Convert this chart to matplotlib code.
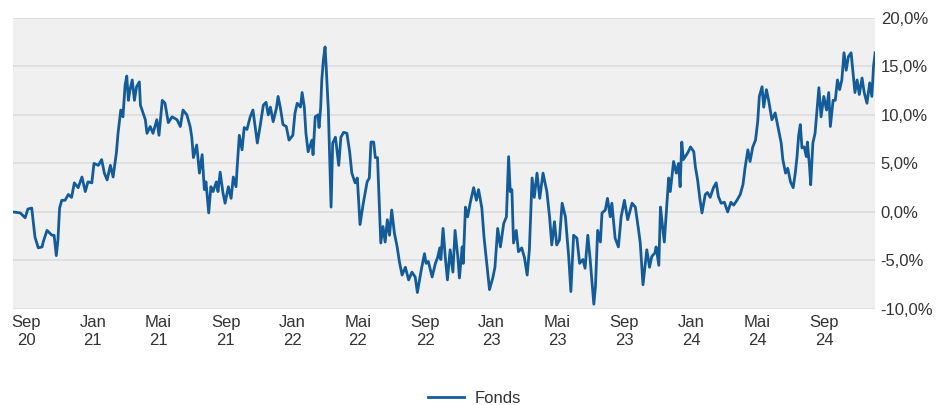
import numpy as np
import pandas as pd
import matplotlib
matplotlib.use("Agg")
from matplotlib import pyplot as plt

plt.rcParams['font.family'] = ['Liberation Sans', 'DejaVu Sans']

# data: days since start date, fund performance in %
start = pd.Timestamp('2020-08-08')
tage = [0, 13, 22, 27, 34, 40, 46, 53, 55, 62, 71, 75, 79, 82, 85, 89, 95, 101, 107, 112,
        119, 126, 132, 137, 144, 148, 156, 162, 167, 172, 178, 183, 189, 192, 197, 201, 205, 208, 211, 214,
        218, 222, 226, 231, 233, 242, 245, 251, 256, 263, 267, 273, 278, 284, 291, 300, 306, 311, 318, 324,
        327, 330, 336, 341, 346, 350, 353, 358, 362, 366, 372, 375, 379, 384, 388, 394, 399, 403, 408, 410,
        414, 419, 423, 428, 434, 439, 443, 447, 452, 458, 463, 467, 471, 476, 482, 485, 489, 494, 500, 505,
        512, 516, 520, 526, 529, 533, 536, 540, 547, 549, 553, 558, 560, 563, 565, 568, 571, 573, 577, 582,
        585, 590, 596, 600, 605, 611, 616, 620, 626, 630, 635, 641, 648, 652, 655, 660, 663, 667, 673, 677,
        681, 685, 689, 693, 698, 703, 707, 712, 718, 724, 730, 736, 740, 747, 753, 756, 760, 767, 773, 777,
        781, 783, 787, 791, 795, 800, 805, 809, 814, 817, 822, 824, 828, 832, 837, 843, 848, 852, 858, 862,
        867, 872, 878, 882, 887, 892, 898, 903, 907, 910, 913, 916, 921, 925, 931, 936, 941, 945, 950, 954,
        959, 964, 970, 977, 982, 986, 991, 995, 1000, 1005, 1011, 1017, 1021, 1026, 1032, 1037, 1043, 1047, 1052, 1056,
        1063, 1066, 1070, 1075, 1078, 1084, 1088, 1093, 1096, 1102, 1108, 1113, 1119, 1125, 1133, 1139, 1145, 1148, 1153, 1160,
        1165, 1169, 1175, 1177, 1182, 1185, 1188, 1192, 1196, 1200, 1203, 1209, 1214, 1218, 1221, 1224, 1227, 1235, 1240, 1246,
        1249, 1253, 1257, 1261, 1267, 1271, 1276, 1282, 1287, 1291, 1296, 1302, 1308, 1314, 1319, 1325, 1331, 1336, 1340, 1345,
        1349, 1354, 1359, 1363, 1366, 1371, 1374, 1379, 1383, 1389, 1395, 1401, 1406, 1409, 1414, 1418, 1423, 1428, 1432, 1435,
        1438, 1441, 1444, 1448, 1452, 1454, 1458, 1460, 1464, 1468, 1472, 1475, 1479, 1484, 1489, 1493, 1496, 1501, 1505, 1509,
        1513, 1517, 1521, 1525, 1529, 1534, 1537, 1541, 1545, 1549, 1554, 1558, 1563, 1568, 1572, 1575, 1578]
fonds = [0.0, -0.1, -0.6, 0.3, 0.4, -2.6, -3.7, -3.6, -3.1, -1.9, -2.4, -2.4, -4.5, -2.9, 0.4, 1.2, 1.2, 1.8, 1.5, 3.0,
         2.5, 3.6, 2.1, 3.1, 3.0, 5.0, 4.8, 5.4, 4.0, 3.3, 4.8, 3.6, 6.1, 8.1, 10.5, 9.8, 13.1, 14.0, 11.5, 12.6,
         13.6, 11.5, 12.9, 13.4, 11.0, 9.5, 8.1, 8.8, 8.1, 9.5, 7.9, 11.5, 11.2, 9.2, 9.8, 9.5, 8.8, 10.5, 10.0, 8.8,
         7.7, 5.6, 6.9, 4.0, 5.9, 2.3, 3.1, -0.1, 2.6, 2.1, 3.1, 2.1, 4.1, 2.0, 0.9, 2.6, 1.4, 3.6, 2.6, 4.5,
         7.9, 6.4, 8.7, 8.5, 9.8, 10.5, 8.8, 7.1, 8.8, 11.0, 11.3, 10.0, 10.8, 9.3, 10.7, 11.9, 10.8, 9.0, 8.8, 7.4,
         7.9, 10.2, 11.2, 10.8, 12.3, 10.8, 8.1, 6.2, 7.4, 5.9, 9.8, 10.0, 8.7, 10.8, 13.6, 15.7, 17.0, 15.0, 10.5, 0.5,
         7.1, 7.7, 4.8, 7.7, 8.2, 8.1, 6.2, 4.0, 3.0, 3.5, -1.3, 0.9, 3.1, 3.5, 7.2, 7.2, 5.6, 5.6, -3.2, -1.5,
         -3.1, -0.8, -2.4, 0.2, -2.2, -3.6, -5.1, -6.5, -5.7, -7.0, -6.2, -6.7, -8.3, -6.0, -4.3, -5.3, -5.1, -6.7, -5.3, -4.7,
         -3.7, -4.9, -1.7, -4.6, -7.0, -3.9, -6.2, -1.9, -4.6, -6.8, -3.6, -5.3, 0.5, -0.5, 1.0, 2.5, 1.2, 2.3, 0.4, -2.6,
         -5.3, -8.0, -6.8, -5.7, -1.7, -3.6, -1.2, -0.5, 5.7, 2.1, 2.3, -3.2, -1.9, -4.1, -3.7, -4.7, -6.5, -3.9, 3.5, 1.5,
         4.0, 1.4, 4.0, 2.1, -0.5, -3.4, -1.0, -3.4, -2.9, 0.9, -0.5, -4.6, -8.2, -2.4, -2.7, -5.3, -4.9, -5.8, -2.4, -4.7,
         -9.5, -7.7, -1.9, -3.1, -0.1, 0.2, 1.4, -0.5, 0.9, -2.7, -3.6, -0.5, 1.2, -0.8, 0.9, 0.5, -1.9, -3.2, -7.5, -3.9,
         -5.7, -4.6, -4.2, -3.6, -5.5, 0.5, -1.1, -3.1, 0.2, 3.5, 2.1, 5.2, 4.0, 5.0, 2.6, 7.2, 5.4, 6.1, 6.7, 6.2,
         4.6, 3.3, 1.4, -0.1, 1.8, 2.0, 1.5, 2.5, 3.0, 1.6, 0.9, 1.0, 0.0, 1.0, 0.7, 1.2, 1.8, 2.8, 4.6, 6.4,
         5.2, 6.7, 7.4, 9.3, 11.9, 12.9, 10.8, 12.6, 11.5, 9.5, 10.2, 8.5, 7.1, 5.4, 4.0, 4.5, 3.1, 2.5, 4.1, 5.7,
         7.9, 9.0, 6.6, 6.7, 5.7, 7.2, 4.6, 2.8, 7.1, 8.1, 10.8, 12.8, 9.8, 11.9, 10.5, 12.3, 8.8, 11.5, 11.5, 13.6,
         12.6, 13.6, 16.4, 14.6, 16.0, 16.4, 14.6, 12.3, 13.6, 12.1, 13.8, 12.3, 11.2, 13.3, 11.9, 15.0, 16.4]

tick_dates = ['2020-09-01', '2021-01-01', '2021-05-01', '2021-09-01', '2022-01-01', '2022-05-01',
              '2022-09-01', '2023-01-01', '2023-05-01', '2023-09-01', '2024-01-01', '2024-05-01', '2024-09-01']
tick_labels = ['Sep\n20', 'Jan\n21', 'Mai\n21', 'Sep\n21', 'Jan\n22', 'Mai\n22',
               'Sep\n22', 'Jan\n23', 'Mai\n23', 'Sep\n23', 'Jan\n24', 'Mai\n24', 'Sep\n24']
y_ticks = [-10, -5, 0, 5, 10, 15, 20]

dates = start + pd.to_timedelta(tage, unit='D')

fig = plt.figure(figsize=(9.39, 4.05), dpi=100)
ax = fig.add_axes([0.014, 0.237, 0.918, 0.719])
ax.set_facecolor('#f0f0f0')

ax.plot(dates, fonds, color='#135c99', lw=2.0, label='Fonds', solid_joinstyle='round')

ax.set_xlim(dates[0], dates[-1])
ax.set_ylim(-10, 20)
ax.set_yticks(y_ticks)
ax.set_yticklabels([f'{v:.1f}%'.replace('.', ',') for v in y_ticks])
ax.yaxis.tick_right()
ax.set_xticks(pd.to_datetime(tick_dates))
ax.set_xticklabels(tick_labels, linespacing=1.25)

ax.grid(axis='y', color='#dcdcdc', lw=1.2)
ax.set_axisbelow(True)
for s in ax.spines.values():
    s.set_visible(False)
ax.tick_params(axis='both', length=0, labelsize=12, colors='#333333')
ax.tick_params(axis='y', pad=4)
ax.tick_params(axis='x', pad=4)

fig.legend(loc='center', bbox_to_anchor=(0.505, 0.017), frameon=False, fontsize=12,
           handlelength=2.2, handletextpad=0.6, labelcolor='#333333')

plt.savefig('out.png', dpi=100)
